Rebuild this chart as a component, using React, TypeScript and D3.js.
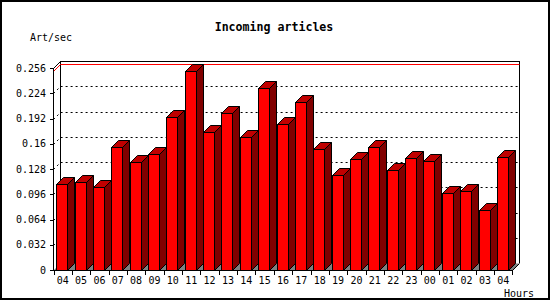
import React from "react";
import * as d3 from "d3";

const categories = ["04","05","06","07","08","09","10","11","12","13","14","15","16","17","18","19","20","21","22","23","00","01","02","03","04"];
const values = [0.1086,0.1111,0.1052,0.1555,0.1365,0.1466,0.1935,0.2522,0.1749,0.199,0.1681,0.2307,0.185,0.2129,0.1533,0.1204,0.1407,0.1555,0.1263,0.1415,0.1377,0.0972,0.0997,0.0756,0.1428];
const yTicks = [0,0.032,0.064,0.096,0.128,0.16,0.192,0.224,0.256];
const yTickLabels = ["0","0.032","0.064","0.096","0.128","0.16","0.192","0.224","0.256"];

const W = 550, H = 300;
const D = 7; // 3d depth
const FONT = "'DejaVu Sans Mono', monospace";

export default function App() {
  const x = d3.scaleBand<number>().domain(categories.map((_, i) => i)).range([53.5, 512.5]).padding(0);
  const y = d3.scaleLinear().domain([0, 0.256]).range([270, 68]);
  const bw = x.bandwidth();
  const left = 53.5, right = 512.5, bottom = y(0);
  const top = y(0.256);
  const maxV = d3.max(values) as number;
  const yMax = y(maxV);

  const bars = values.map((v, i) => {
    const x0 = Math.round((x(i) as number) + bw * 0.15) + 0.5;
    const x1 = x0 + Math.round(bw * 0.6);
    const yt = Math.round(y(v)) + 0.5;
    const yb = bottom + 0.5;
    return (
      <g key={i} stroke="#000" strokeWidth={1} strokeLinejoin="miter">
        <polygon points={`${x1},${yt} ${x1 + D},${yt - D} ${x1 + D},${yb - D} ${x1},${yb}`} fill="#800000" />
        <polygon points={`${x0},${yt} ${x0 + D},${yt - D} ${x1 + D},${yt - D} ${x1},${yt}`} fill="#c00000" />
        <rect x={x0} y={yt} width={x1 - x0} height={yb - yt} fill="#ff0000" />
      </g>
    );
  });

  return (
    <svg width={W} height={H} style={{ position: "absolute", left: 0, top: 0, background: "#fff" }}>
      <rect x={1} y={1} width={W - 2} height={H - 2} fill="#fff" stroke="#000" strokeWidth={2} />
      <text x={274} y={31} textAnchor="middle" fontFamily={FONT} fontWeight="bold" fontSize={11.6} fill="#000">Incoming articles</text>
      <text x={30} y={41} fontFamily={FONT} fontSize={10} fill="#000">Art/sec</text>

      {/* back wall */}
      <g stroke="#000" strokeWidth={1} fill="none" shapeRendering="crispEdges">
        <line x1={left + D} y1={top - D} x2={right + D} y2={top - D} />
        <line x1={left + D} y1={top - D} x2={left + D} y2={bottom - D} />
        <line x1={right + D} y1={top - D} x2={right + D} y2={bottom - D} />
      </g>
      {/* grid */}
      <g stroke="#000" strokeWidth={1} fill="none" strokeDasharray="2,3">
        {yTicks.slice(1, -1).map((t, i) => {
          const yy = Math.round(y(t)) + 0.5;
          return <path key={i} d={`M${left},${yy} L${left + D},${yy - D} L${right + D},${yy - D}`} />;
        })}
      </g>
      {/* max line */}
      <path d={`M${left},${Math.round(yMax) + 0.5} L${left + D},${Math.round(yMax) + 0.5 - D} L${right + D},${Math.round(yMax) + 0.5 - D}`} stroke="#ff0000" strokeWidth={1} fill="none" />
      {/* floor */}
      <polygon points={`${left},${bottom + 0.5} ${left + D},${bottom + 0.5 - D} ${right + D},${bottom + 0.5 - D} ${right},${bottom + 0.5}`} fill="#808080" stroke="none" />
      <line x1={right} y1={bottom + 0.5} x2={right + D} y2={bottom + 0.5 - D} stroke="#000" />
      <line x1={left} y1={top + 0.5} x2={left + D} y2={top + 0.5 - D} stroke="#000" />

      {bars}

      {/* front axes */}
      <g stroke="#000" strokeWidth={1} shapeRendering="crispEdges">
        <line x1={left} y1={top} x2={left} y2={bottom + 0.5} />
        <line x1={left} y1={bottom + 0.5} x2={right} y2={bottom + 0.5} />
        {yTicks.map((t, i) => (
          <line key={i} x1={left - 4} y1={Math.round(y(t)) + 0.5} x2={left} y2={Math.round(y(t)) + 0.5} />
        ))}
        {categories.map((_, i) => (
          <line key={i} x1={Math.round(x(i) as number) + 0.5} y1={bottom} x2={Math.round(x(i) as number) + 0.5} y2={bottom + 5} />
        ))}
        <line x1={right} y1={bottom} x2={right} y2={bottom + 5} />
      </g>
      <g fontFamily={FONT} fontSize={10} fill="#000">
        {yTicks.map((t, i) => (
          <text key={i} x={46} y={y(t) + 3.5} textAnchor="end">{yTickLabels[i]}</text>
        ))}
        {categories.map((c, i) => (
          <text key={i} x={(x(i) as number) + bw / 2} y={284} textAnchor="middle">{c}</text>
        ))}
        <text x={534} y={297} textAnchor="end">Hours</text>
      </g>
    </svg>
  );
}
